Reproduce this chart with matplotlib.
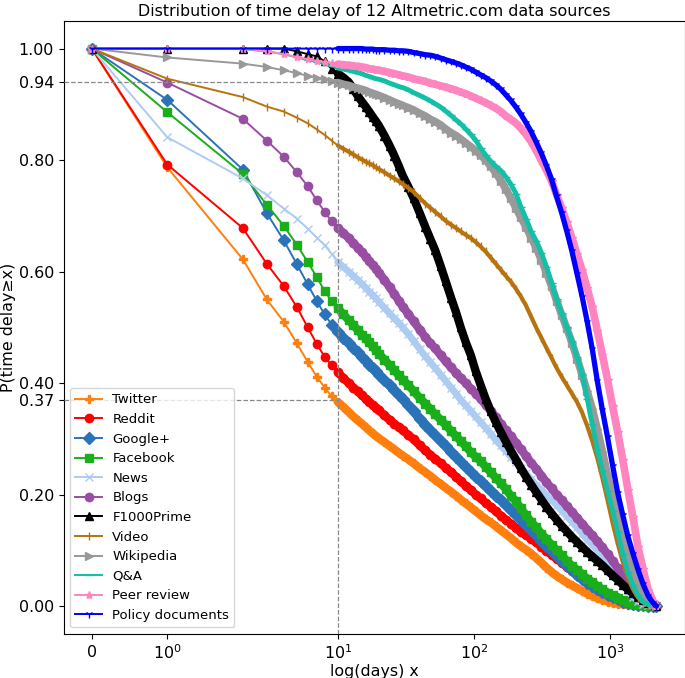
import matplotlib
matplotlib.use("Agg")
import matplotlib.pyplot as plt
from matplotlib.ticker import FormatStrFormatter

days = [0, 1, 2, 3, 4, 5, 6, 7, 8, 9, 10, 11, 12, 13, 14, 15, 16, 17, 18, 19, 20,
        22, 24, 26, 28, 30, 33, 36, 40, 44, 48,
        52, 57, 62, 68, 74, 80, 87, 95, 103, 112,
        122, 133, 145, 158, 172, 187, 204, 222, 242, 264,
        288, 314, 342, 373, 406, 443, 483, 527, 574, 626,
        682, 743, 810, 883, 962, 1049, 1143, 1246, 1358, 1480,
        1613, 1758, 1916, 2088, 2200]

twitter = [1.0, 0.787, 0.622, 0.550, 0.510, 0.471, 0.438, 0.411, 0.392, 0.376, 0.366,
           0.357, 0.348, 0.340, 0.333, 0.327, 0.321, 0.315, 0.310, 0.305, 0.301,
           0.294, 0.287, 0.281, 0.275, 0.270, 0.263, 0.256, 0.247, 0.240, 0.233,
           0.226, 0.219, 0.212, 0.205, 0.198, 0.191, 0.184, 0.177, 0.170, 0.163,
           0.156, 0.150, 0.143, 0.136, 0.129, 0.122, 0.114, 0.107, 0.101, 0.094,
           0.086, 0.078, 0.069, 0.061, 0.054, 0.048, 0.042, 0.037, 0.032, 0.027,
           0.022, 0.018, 0.014, 0.011, 0.008, 0.006, 0.004, 0.003, 0.002, 0.001,
           0.001, 0.0, 0.0, 0.0, 0.0]

reddit = [1.0, 0.792, 0.678, 0.614, 0.574, 0.536, 0.500, 0.470, 0.447, 0.432, 0.419,
          0.409, 0.400, 0.392, 0.385, 0.378, 0.372, 0.366, 0.361, 0.356, 0.351,
          0.342, 0.334, 0.327, 0.321, 0.315, 0.307, 0.299, 0.288, 0.279, 0.271,
          0.264, 0.256, 0.248, 0.240, 0.232, 0.224, 0.216, 0.208, 0.200, 0.193,
          0.185, 0.178, 0.170, 0.162, 0.155, 0.148, 0.140, 0.133, 0.127, 0.121,
          0.114, 0.106, 0.099, 0.092, 0.085, 0.078, 0.070, 0.063, 0.056, 0.050,
          0.043, 0.037, 0.031, 0.026, 0.021, 0.017, 0.013, 0.009, 0.006, 0.004,
          0.002, 0.001, 0.0, 0.0, 0.0]

googleplus = [1.0, 0.908, 0.783, 0.705, 0.656, 0.613, 0.577, 0.547, 0.523, 0.505, 0.492,
              0.481, 0.472, 0.463, 0.455, 0.447, 0.440, 0.433, 0.427, 0.421, 0.415,
              0.405, 0.396, 0.387, 0.379, 0.371, 0.360, 0.349, 0.336, 0.325, 0.315,
              0.306, 0.296, 0.287, 0.277, 0.268, 0.259, 0.250, 0.241, 0.232, 0.224,
              0.215, 0.207, 0.198, 0.190, 0.181, 0.172, 0.163, 0.154, 0.145, 0.137,
              0.127, 0.117, 0.108, 0.099, 0.090, 0.081, 0.072, 0.064, 0.056, 0.049,
              0.042, 0.036, 0.030, 0.025, 0.020, 0.016, 0.012, 0.008, 0.006, 0.004,
              0.002, 0.001, 0.0, 0.0, 0.0]

facebook = [1.0, 0.886, 0.775, 0.720, 0.682, 0.648, 0.617, 0.590, 0.565, 0.547, 0.534,
            0.523, 0.513, 0.504, 0.495, 0.487, 0.480, 0.473, 0.466, 0.459, 0.453,
            0.442, 0.432, 0.423, 0.414, 0.406, 0.396, 0.386, 0.373, 0.363, 0.353,
            0.344, 0.334, 0.325, 0.314, 0.305, 0.296, 0.287, 0.276, 0.268, 0.260,
            0.250, 0.240, 0.230, 0.220, 0.210, 0.198, 0.188, 0.175, 0.163, 0.151,
            0.141, 0.130, 0.120, 0.110, 0.100, 0.091, 0.081, 0.072, 0.065, 0.057,
            0.049, 0.043, 0.036, 0.030, 0.024, 0.019, 0.014, 0.010, 0.007, 0.004,
            0.002, 0.001, 0.0, 0.0, 0.0]

news = [1.0, 0.841, 0.767, 0.737, 0.713, 0.695, 0.677, 0.661, 0.647, 0.632, 0.617,
        0.608, 0.600, 0.592, 0.585, 0.578, 0.571, 0.564, 0.558, 0.552, 0.546,
        0.535, 0.525, 0.516, 0.508, 0.500, 0.488, 0.476, 0.461, 0.448, 0.437,
        0.427, 0.415, 0.404, 0.392, 0.381, 0.370, 0.360, 0.350, 0.340, 0.330,
        0.320, 0.309, 0.298, 0.288, 0.278, 0.268, 0.258, 0.248, 0.238, 0.227,
        0.217, 0.208, 0.199, 0.190, 0.181, 0.171, 0.161, 0.151, 0.141, 0.130,
        0.119, 0.110, 0.100, 0.089, 0.077, 0.065, 0.053, 0.039, 0.027, 0.017,
        0.009, 0.004, 0.002, 0.001, 0.0]

blogs = [1.0, 0.939, 0.874, 0.835, 0.806, 0.778, 0.753, 0.728, 0.707, 0.690, 0.678,
         0.669, 0.660, 0.651, 0.643, 0.635, 0.627, 0.619, 0.612, 0.605, 0.598,
         0.585, 0.572, 0.560, 0.548, 0.537, 0.524, 0.511, 0.496, 0.482, 0.471,
         0.462, 0.450, 0.439, 0.428, 0.418, 0.409, 0.400, 0.390, 0.381, 0.372,
         0.361, 0.350, 0.339, 0.327, 0.315, 0.305, 0.293, 0.281, 0.269, 0.257,
         0.246, 0.234, 0.222, 0.211, 0.200, 0.190, 0.179, 0.169, 0.158, 0.148,
         0.137, 0.127, 0.116, 0.105, 0.093, 0.081, 0.068, 0.051, 0.039, 0.027,
         0.017, 0.010, 0.005, 0.002, 0.0]

f1000 = [1.0, 1.0, 1.0, 1.0, 1.0, 0.995, 0.990, 0.986, 0.977, 0.963, 0.955,
         0.948, 0.940, 0.928, 0.915, 0.905, 0.896, 0.887, 0.878, 0.870, 0.862,
         0.844, 0.826, 0.808, 0.790, 0.772, 0.752, 0.732, 0.705, 0.680, 0.658,
         0.638, 0.610, 0.583, 0.553, 0.527, 0.500, 0.474, 0.450, 0.422, 0.397,
         0.372, 0.350, 0.330, 0.312, 0.295, 0.279, 0.263, 0.247, 0.232, 0.218,
         0.204, 0.191, 0.178, 0.166, 0.155, 0.144, 0.134, 0.124, 0.115, 0.106,
         0.097, 0.089, 0.081, 0.073, 0.064, 0.055, 0.047, 0.038, 0.030, 0.023,
         0.016, 0.010, 0.005, 0.002, 0.0]

video = [1.0, 0.946, 0.913, 0.896, 0.887, 0.876, 0.866, 0.855, 0.845, 0.835, 0.826,
         0.820, 0.815, 0.810, 0.805, 0.801, 0.797, 0.794, 0.791, 0.787, 0.784,
         0.778, 0.772, 0.767, 0.762, 0.757, 0.750, 0.743, 0.732, 0.722, 0.714,
         0.707, 0.699, 0.691, 0.684, 0.678, 0.672, 0.666, 0.660, 0.653, 0.645,
         0.636, 0.625, 0.614, 0.603, 0.592, 0.582, 0.569, 0.555, 0.539, 0.519,
         0.499, 0.481, 0.463, 0.445, 0.427, 0.411, 0.396, 0.381, 0.366, 0.347,
         0.323, 0.296, 0.265, 0.229, 0.190, 0.149, 0.112, 0.079, 0.051, 0.030,
         0.015, 0.007, 0.002, 0.001, 0.0]

wikipedia = [1.0, 0.984, 0.973, 0.967, 0.961, 0.956, 0.951, 0.948, 0.945, 0.942, 0.939,
             0.936, 0.934, 0.931, 0.929, 0.927, 0.925, 0.922, 0.920, 0.918, 0.916,
             0.912, 0.908, 0.904, 0.901, 0.898, 0.894, 0.890, 0.884, 0.879, 0.873,
             0.869, 0.863, 0.856, 0.849, 0.844, 0.838, 0.831, 0.824, 0.817, 0.809,
             0.800, 0.789, 0.777, 0.763, 0.748, 0.732, 0.714, 0.697, 0.680, 0.661,
             0.642, 0.621, 0.598, 0.574, 0.548, 0.522, 0.498, 0.472, 0.444, 0.415,
             0.385, 0.354, 0.317, 0.277, 0.235, 0.194, 0.155, 0.119, 0.086, 0.058,
             0.036, 0.018, 0.008, 0.002, 0.0]

qa = [1.0, 1.0, 0.999, 0.995, 0.990, 0.984, 0.979, 0.976, 0.972, 0.968, 0.965,
      0.963, 0.961, 0.959, 0.957, 0.955, 0.952, 0.950, 0.948, 0.946, 0.945,
      0.942, 0.938, 0.935, 0.932, 0.930, 0.926, 0.921, 0.916, 0.911, 0.906,
      0.901, 0.895, 0.888, 0.880, 0.872, 0.865, 0.856, 0.846, 0.836, 0.822,
      0.809, 0.798, 0.789, 0.781, 0.770, 0.757, 0.740, 0.716, 0.695, 0.672,
      0.655, 0.634, 0.609, 0.580, 0.550, 0.525, 0.500, 0.475, 0.447, 0.417,
      0.372, 0.326, 0.280, 0.243, 0.207, 0.170, 0.133, 0.093, 0.061, 0.037,
      0.019, 0.008, 0.003, 0.001, 0.0]

peer_review = [1.0, 1.0, 1.0, 0.995, 0.990, 0.985, 0.981, 0.978, 0.976, 0.974, 0.972,
               0.971, 0.970, 0.969, 0.968, 0.967, 0.966, 0.964, 0.963, 0.962, 0.961,
               0.959, 0.957, 0.955, 0.953, 0.951, 0.949, 0.946, 0.943, 0.941, 0.938,
               0.936, 0.933, 0.931, 0.928, 0.925, 0.922, 0.919, 0.915, 0.911, 0.907,
               0.903, 0.898, 0.893, 0.887, 0.879, 0.873, 0.866, 0.857, 0.846, 0.833,
               0.817, 0.799, 0.782, 0.762, 0.738, 0.714, 0.688, 0.660, 0.631, 0.602,
               0.570, 0.536, 0.494, 0.450, 0.406, 0.358, 0.312, 0.262, 0.209, 0.159,
               0.106, 0.066, 0.029, 0.008, 0.0]

policy = [1.0, 1.0, 1.0, 1.0, 1.0, 1.0, 1.0, 1.0, 1.0, 1.0, 1.0,
          1.0, 1.0, 1.0, 1.0, 1.0, 0.999, 0.999, 0.999, 0.998, 0.998,
          0.998, 0.997, 0.997, 0.996, 0.996, 0.995, 0.993, 0.991, 0.989, 0.988,
          0.986, 0.983, 0.980, 0.977, 0.974, 0.971, 0.967, 0.963, 0.958, 0.953,
          0.948, 0.942, 0.935, 0.927, 0.917, 0.907, 0.895, 0.882, 0.867, 0.851,
          0.832, 0.812, 0.790, 0.765, 0.735, 0.705, 0.672, 0.636, 0.596, 0.555,
          0.510, 0.461, 0.403, 0.351, 0.303, 0.252, 0.203, 0.163, 0.125, 0.094,
          0.065, 0.039, 0.018, 0.005, 0.0]

labels = ["Twitter", "Reddit", "Google+", "Facebook", "News", "Blogs",
          "F1000Prime", "Video", "Wikipedia", "Q&A", "Peer review",
          "Policy documents"]
series = [twitter, reddit, googleplus, facebook, news, blogs,
          f1000, video, wikipedia, qa, peer_review, policy]
colors = ["#ff7f0e", "#ff0000", "#2b73b8", "#1aae1a", "#aecbf2", "#984ea3",
          "#000000", "#b8730f", "#999999", "#13bfa6", "#ff85c0", "#0000ff"]
markers = ["P", "o", "D", "s", "x", "o", "^", "|", ">", "_", "*", "1"]
# width (pt) of the dense run of overlapping markers seen beyond ~10 days
band_widths = [6.0, 6.0, 6.5, 6.0, 5.0, 6.0, 6.0, 3.0, 5.5, 3.5, 5.5, 3.8]

yticks = [0.0, 0.2, 0.37, 0.4, 0.6, 0.8, 0.94, 1.0]
ref_x = 10
ref_y_top = 0.94
ref_y_low = 0.37
band_from_day = 10

W, H = 685, 678
fig = plt.figure(figsize=(W / 100, H / 100), dpi=100)
ax = fig.add_axes([63.5 / W, 1 - 633.9 / H, (684.6 - 63.5) / W, (633.9 - 20.7) / H])
ax.set_xscale('symlog', linthresh=2)

i0 = days.index(band_from_day)
for k, (lab, vals, c, m, bw) in enumerate(zip(labels, series, colors, markers, band_widths)):
    ax.plot(days[i0:], vals[i0:], color=c, linewidth=bw, solid_capstyle='round',
            solid_joinstyle='round', zorder=2 + 0.01 * k)
    ax.plot(days, vals, color=c, marker=m, markersize=6.0, linewidth=1.4,
            label=lab, zorder=2 + 0.01 * k + 0.005)

# freeze the autoscaled limits before adding the reference lines
xl = ax.get_xlim()
yl = ax.get_ylim()
dash_kw = dict(color='#888888', linestyle='--', linewidth=0.9, zorder=3)
ax.plot([xl[0], ref_x], [ref_y_top, ref_y_top], **dash_kw)
ax.plot([xl[0], ref_x], [ref_y_low, ref_y_low], **dash_kw)
ax.plot([ref_x, ref_x], [yl[0], ref_y_top], **dash_kw)
ax.set_xlim(xl)
ax.set_ylim(yl)

ax.set_yticks(yticks)
ax.yaxis.set_major_formatter(FormatStrFormatter('%.2f'))
ax.tick_params(labelsize=11.4)
ax.set_title("Distribution of time delay of 12 Altmetric.com data sources",
             fontsize=11.4, pad=3.5)
ax.set_xlabel("log(days) x", fontsize=11.4, labelpad=1)
ax.set_ylabel("P(time delay≥x)", fontsize=11.4, labelpad=2)
ax.legend(loc='lower left', fontsize=9.5)

fig.savefig("out.png", dpi=100)
